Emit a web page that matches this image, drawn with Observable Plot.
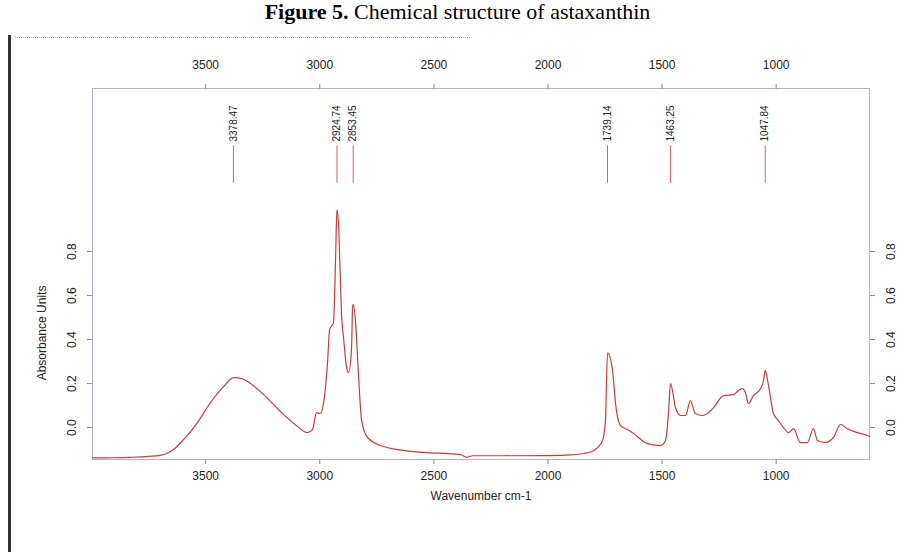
<!DOCTYPE html>
<html><head><meta charset="utf-8">
<script src="https://cdn.jsdelivr.net/npm/d3@7"></script>
<script src="https://cdn.jsdelivr.net/npm/@observablehq/plot@0.6"></script>
<style>
html,body{margin:0;padding:0;background:#fff;}
#wrap{position:relative;width:915px;height:552px;overflow:hidden;}
#chart{position:absolute;left:0;top:0;}
#title{position:absolute;left:0;width:915px;top:0px;text-align:center;font-family:"Liberation Serif","Times New Roman",serif;font-size:22px;line-height:24px;color:#000;white-space:nowrap;}
#bar{position:absolute;left:8px;top:35px;width:3px;height:517px;background:#333;}
#dots{position:absolute;left:15px;top:37px;width:455px;border-top:1px dotted #aaa;}
</style></head>
<body><div id="wrap"><div id="chart"></div><div id="title"><b>Figure 5.</b> Chemical structure of astaxanthin</div><div id="bar"></div><div id="dots"></div></div>
<script>
const wavenumber = [3996,3900,3829,3750,3698,3660,3641,3597,3536,3479,3422,3378,3340,3316,3246,3172,3097,3054,3032,3014,2997,2983,2966,2957,2940,2930,2925,2918,2912,2905,2896,2883,2874,2861,2856,2853,2843,2830,2817,2791,2721,2589,2383,2355,2330,2200,2000,1900,1858,1801,1761,1748,1739,1717,1704,1682,1652,1625,1564,1507,1485,1472,1463,1441,1419,1397,1376,1354,1323,1301,1275,1231,1187,1165,1148,1135,1121,1100,1069,1055,1048,1035,1012,990,968,946,924,894,863,837,819,784,749,718,688,644,600,591];
const absorbance = [-0.138,-0.137,-0.135,-0.131,-0.126,-0.112,-0.10,-0.055,0.023,0.114,0.186,0.227,0.222,0.209,0.15,0.073,0.005,-0.023,-0.009,0.068,0.064,0.114,0.295,0.445,0.477,0.80,0.99,0.93,0.75,0.52,0.41,0.277,0.25,0.355,0.55,0.56,0.477,0.232,0.036,-0.045,-0.086,-0.109,-0.123,-0.135,-0.128,-0.128,-0.127,-0.124,-0.12,-0.105,-0.06,0.032,0.34,0.26,0.11,0.009,-0.009,-0.027,-0.073,-0.082,-0.059,0.064,0.2,0.09,0.055,0.055,0.123,0.064,0.055,0.064,0.09,0.145,0.15,0.168,0.177,0.159,0.109,0.145,0.177,0.214,0.26,0.2,0.064,0.032,0,-0.023,-0.005,-0.068,-0.068,-0.005,-0.059,-0.068,-0.045,0.014,-0.005,-0.023,-0.036,-0.04];
const peakPositions = [3378.47, 2924.74, 2853.45, 1739.14, 1463.25, 1047.84];
const xTicks = [3500, 3000, 2500, 2000, 1500, 1000];
const yTicks = [0, 0.2, 0.4, 0.6, 0.8];
const xLabel = "Wavenumber cm-1";
const yLabel = "Absorbance Units";

const spectrum = wavenumber.map((w, i) => ({w, a: absorbance[i]}));
const peaks = peakPositions.map(p => ({p}));
const fmtY = d3.format(".1f");
const fmtX = d3.format("d");

const chart = Plot.plot({
  width: 915, height: 552,
  marginLeft: 92, marginRight: 46, marginTop: 88, marginBottom: 93,
  style: {fontFamily: '"Liberation Sans", Arial, sans-serif', fontSize: "12px", color: "#222", background: "transparent"},
  x: {domain: [3996, 591]},
  y: {domain: [-0.145, 1.541]},
  marks: [
    Plot.frame({stroke: "#b4b4c8"}),
    Plot.axisX({anchor: "bottom", ticks: xTicks, tickFormat: fmtX, tickSize: 5, tickPadding: 7, label: null, stroke: "#888"}),
    Plot.axisX({anchor: "top", ticks: xTicks, tickFormat: fmtX, tickSize: 5, tickPadding: 15, label: null, stroke: "#888"}),
    Plot.axisY({anchor: "left", ticks: yTicks, tickFormat: fmtY, tickSize: 5, tickRotate: -90, tickPadding: 12, label: null, stroke: "#888"}),
    Plot.axisY({anchor: "right", ticks: yTicks, tickFormat: fmtY, tickSize: 5, tickRotate: -90, lineAnchor: "top", tickPadding: 12, label: null, stroke: "#888"}),
    Plot.text([xLabel], {frameAnchor: "bottom", dy: 40, text: d => d, fontSize: 12}),
    Plot.text([yLabel], {frameAnchor: "left", y: () => 0.43, dx: -50, rotate: -90, textAnchor: "middle", text: d => d, fontSize: 12}),
    Plot.line(spectrum, {x: "w", y: "a", stroke: "#c83c3c", strokeWidth: 1.2, curve: "monotone-x"}),
    Plot.ruleX(peaks, {x: "p", y1: () => 1.11, y2: () => 1.28, stroke: "#d86060", strokeWidth: 1}),
    Plot.text(peaks, {x: "p", y: () => 1.30, text: d => d.p.toFixed(2), rotate: -90, textAnchor: "start", fontSize: 10})
  ]
});
document.getElementById("chart").appendChild(chart);
</script>
</body></html>
